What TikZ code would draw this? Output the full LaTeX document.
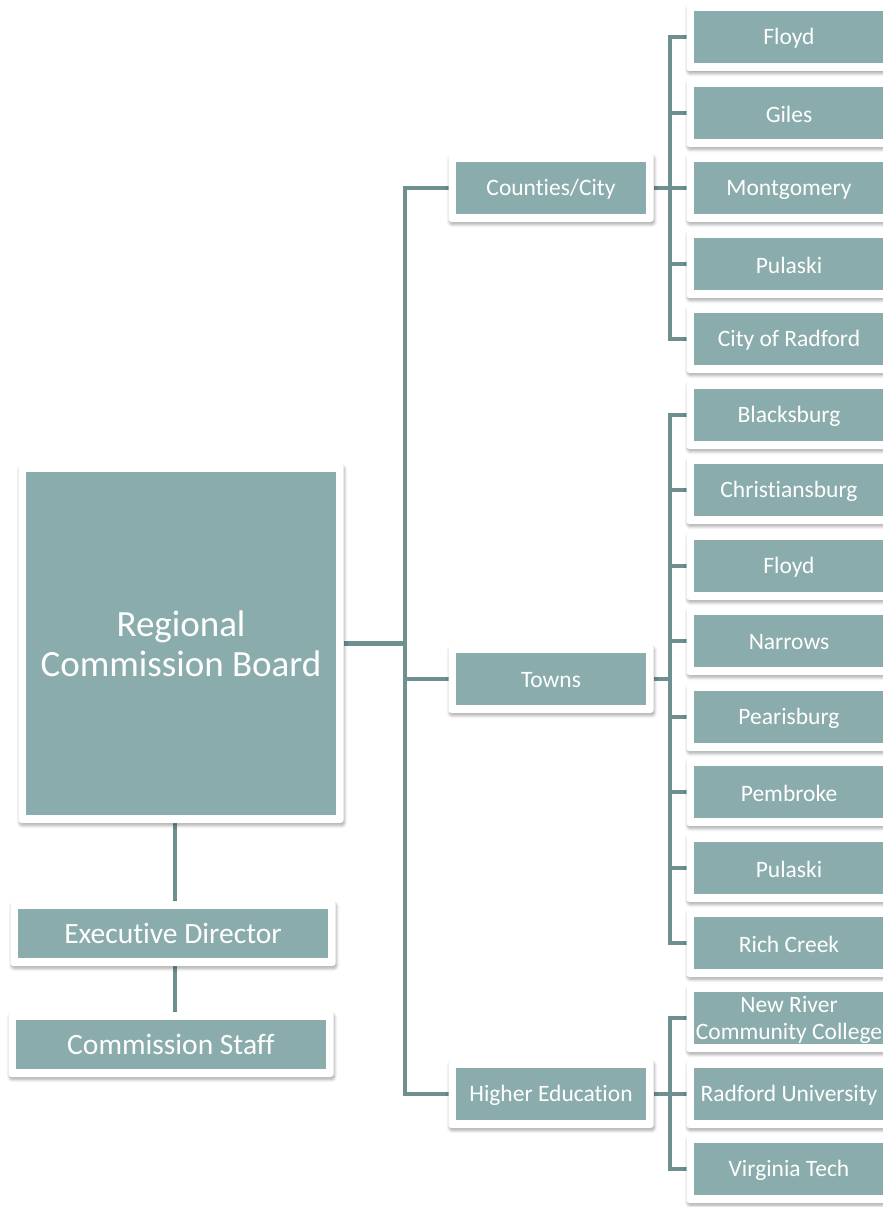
\documentclass[tikz,border=0pt]{standalone}
\usepackage{fontspec}
\setmainfont{Carlito}[Ligatures=NoCommon]
\usetikzlibrary{shadows.blur,backgrounds}
\definecolor{tealfill}{HTML}{8AACAC}
\definecolor{linkcol}{HTML}{6E9090}
\tikzset{
  frame/.style={fill=white, rounded corners=3pt, inner sep=0pt, outer sep=0pt,
    blur shadow={shadow xshift=1pt, shadow yshift=-2.5pt, shadow blur radius=3pt, shadow blur steps=6, shadow opacity=35}},
  card/.style={fill=tealfill, inner sep=0pt, outer sep=0pt},
  label text/.style={text=white, inner sep=0pt, align=center},
  link/.style={draw=linkcol, line width=4.5pt},
}
% #1 name, #2 centre, #3 inner width, #4 inner height, #5 font size, #6 baseline skip, #7 text nudge, #8 text
\newcommand{\orgbox}[8]{%
  \node[frame, minimum width=#3+15pt, minimum height=#4+16pt] (#1) at (#2) {};
  \node[card, minimum width=#3, minimum height=#4] (#1-in) at (#2) {};
  \node[label text, font=\fontsize{#5}{#6}\selectfont, yshift=#7] (#1-tx) at (#2) {#8};
}
\newcommand{\leaf}[3]{\orgbox{#1}{789,#2}{190pt}{52pt}{23.5}{27}{-1.5pt}{#3}}
\newcommand{\group}[3]{\orgbox{#1}{551,#2}{190pt}{52pt}{23.5}{27}{-1.5pt}{#3}}
\begin{document}
\begin{tikzpicture}[x=1pt, y=-1pt]
\useasboundingbox (0,0) rectangle (883,1207);
% root and staff column
\orgbox{root}{181,643.5}{310pt}{343pt}{37}{40}{0pt}{Regional\\Commission Board}
\orgbox{exec}{173,933.5}{310pt}{49pt}{29.5}{33}{0pt}{Executive Director}
\orgbox{staff}{171,1044.5}{310pt}{49pt}{29.5}{33}{0pt}{Commission Staff}
% groups
\group{cty}{188}{Counties/City}
\group{twn}{679}{Towns}
\group{hed}{1094}{Higher Education}
% members
\leaf{c1}{37}{Floyd}
\leaf{c2}{113}{Giles}
\leaf{c3}{188}{Montgomery}
\leaf{c4}{264}{Pulaski}
\leaf{c5}{339}{City of Radford}
\leaf{t1}{415}{Blacksburg}
\leaf{t2}{490}{Christiansburg}
\leaf{t3}{566}{Floyd}
\leaf{t4}{641}{Narrows}
\leaf{t5}{717}{Pearisburg}
\leaf{t6}{792}{Pembroke}
\leaf{t7}{868}{Pulaski}
\leaf{t8}{943}{Rich Creek}
\leaf{h1}{1018}{New River\\Community College}
\leaf{h2}{1094}{Radford University}
\leaf{h3}{1169}{Virginia Tech}
% connectors, behind the boxes
\begin{scope}[on background layer]
\coordinate (trunk) at (405,0);
\coordinate (bar) at (670,0);
\coordinate (stem) at (175,0);
\draw[link] (cty.west) -| (trunk |- hed.west) -- (hed.west);
\draw[link] (twn.west) -- (twn.west -| trunk);
\draw[link] (root.east) -- (root.east -| trunk);
\draw[link] (c1.west) -| (bar |- c5.west) -- (c5.west);
\draw[link] (t1.west) -| (bar |- t8.west) -- (t8.west);
\draw[link] (h1.west) -| (bar |- h3.west) -- (h3.west);
\foreach \n in {c2,c3,c4,t2,t3,t4,t5,t6,t7,h2}
  { \draw[link] (\n.west) -- (\n.west -| bar); }
\foreach \g in {cty,twn,hed}
  { \draw[link] (\g.east) -- (\g.east -| bar); }
\draw[link] (stem |- root.south) -- (stem |- exec.north);
\draw[link] (stem |- exec.south) -- (stem |- staff.north);
\end{scope}
\end{tikzpicture}
\end{document}
